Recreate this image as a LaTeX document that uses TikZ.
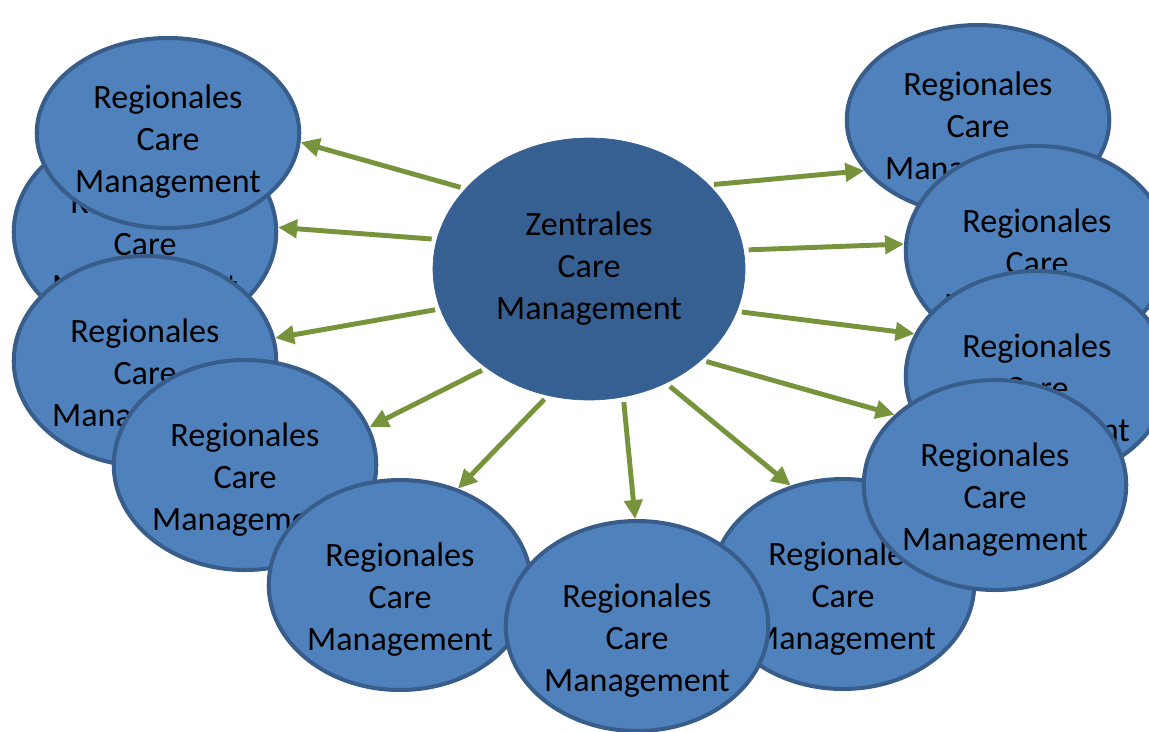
\documentclass[tikz,border=0pt]{standalone}
\usepackage{fontspec}
\setmainfont{Carlito}
\usetikzlibrary{shapes.geometric,arrows.meta}
\definecolor{regfill}{HTML}{4F81BD}
\definecolor{regline}{HTML}{385D8A}
\definecolor{zenfill}{HTML}{376092}
\definecolor{arrgreen}{HTML}{77933C}
\begin{document}
\begin{tikzpicture}[x=0.02cm, y=-0.02cm,
  blob/.style={ellipse, inner sep=0pt, align=center,
    font=\fontsize{19.4pt}{23.9pt}\selectfont},
  region/.style={blob, draw=regline, fill=regfill, line width=2.3pt,
    minimum width=5.2cm, minimum height=4.2cm, text height=78pt},
  regionflat/.style={region, minimum height=3.8cm, text height=71pt},
  zentrale/.style={blob, draw=zenfill, fill=zenfill, line width=0.4pt,
    minimum width=6.24cm, minimum height=5.24cm},
  pfeil/.style={draw=arrgreen, line width=2.8pt, shorten <=0.1cm,
    -{Triangle[length=0.38cm, width=0.36cm]}}]
\useasboundingbox (0,0) rectangle (1149,731);

% right side first, the left ones lie on top of their neighbours
\node[regionflat] (rcm11) at (978,120) {Regionales\\Care\\Management};
\node[region] (rcm10) at (1037,251) {Regionales\\Care\\Management};
\node[region] (rcm9) at (1037,376) {Regionales\\Care\\Management};
\node[region] (rcm7) at (843,584) {Regionales\\Care\\Management};
\node[region] (rcm8) at (995,485) {Regionales\\Care\\Management};
\node[region] (rcm2) at (145,232) {Regionales\\Care\\Management};
\node[regionflat] (rcm1) at (168,133) {Regionales\\Care\\Management};
\node[region] (rcm3) at (145,361) {Regionales\\Care\\Management};
\node[region] (rcm4) at (245,465) {Regionales\\Care\\Management};
\node[region] (rcm5) at (400,585) {Regionales\\Care\\Management};
\node[region] (rcm6) at (637,626) {Regionales\\Care\\Management};

% centre
\node[zentrale] (zcm) at (589,269) {Zentrales\\Care\\Management};

% arrows out of the centre
\draw[pfeil] (zcm.147) -- (rcm1.-4);
\draw[pfeil] (zcm.169) -- (rcm2.2);
\draw[pfeil] (zcm.195) -- (rcm3.10);
\draw[pfeil] (zcm.224) -- (rcm4.17);
\draw[pfeil] (zcm.252) -- (rcm5.59);
\draw[pfeil] (zcm.285) -- (rcm6.91);
\draw[pfeil] (zcm.-56) -- (rcm7.118);
\draw[pfeil] (zcm.-39) -- (rcm8.145);
\draw[pfeil] (zcm.-16) -- (rcm9.161);
\draw[pfeil] (zcm.7) -- (rcm10.177);
\draw[pfeil] (zcm.35) -- (rcm11.204);
\end{tikzpicture}
\end{document}
